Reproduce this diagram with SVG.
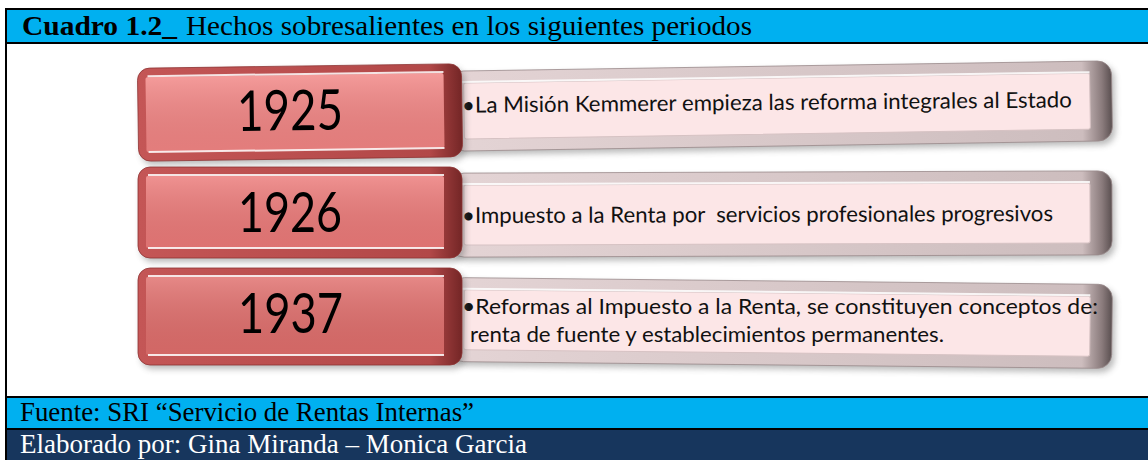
<svg xmlns="http://www.w3.org/2000/svg" width="1148" height="460" viewBox="0 0 1148 460">
<defs>
<filter id="blur" x="-10%" y="-30%" width="120%" height="160%"><feGaussianBlur stdDeviation="3"/></filter>
<linearGradient id="redEdge" x1="0" y1="0" x2="1" y2="0">
<stop offset="0" stop-color="#C45656"/><stop offset="0.9" stop-color="#B24848"/><stop offset="1" stop-color="#742626"/>
</linearGradient>
<linearGradient id="pinkEdge" x1="0" y1="0" x2="1" y2="0">
<stop offset="0" stop-color="#E4D4D5"/><stop offset="0.955" stop-color="#CDBDBE"/><stop offset="0.985" stop-color="#8A7B7C"/><stop offset="1" stop-color="#5A4F50"/>
</linearGradient>
<linearGradient id="gloss" x1="0" y1="0" x2="0" y2="1">
<stop offset="0" stop-color="#fff" stop-opacity="0.18"/><stop offset="1" stop-color="#000" stop-opacity="0.06"/>
</linearGradient>
</defs>
<style>
.shadow{fill:#666;opacity:.45;filter:url(#blur)}
.redOuter{fill:url(#redEdge);stroke:#8E3434;stroke-width:.8}
.pinkOuter{fill:url(#pinkEdge);stroke:#9A8A8B;stroke-width:.8}
.pinkFace{fill:#FCE6E7;stroke:#D6C2C3;stroke-width:1}
.hl{stroke:#fff;stroke-width:2;opacity:.85}
.year{font-family:Lato,"Noto Sans",sans-serif;font-size:56px;fill:#000}
.desc{font-family:Lato,"Noto Sans",sans-serif;font-size:22px;fill:#111}
.tnr{font-family:"Liberation Serif","Times New Roman",serif;font-size:27px}
</style>
<rect x="0" y="0" width="1148" height="460" fill="#fff"/>
<!-- frame / header / footer -->
<rect x="5" y="8" width="1143" height="2" fill="#000"/>
<rect x="7" y="10" width="1141" height="32" fill="#00B0F0"/>
<rect x="5" y="42" width="1143" height="2" fill="#000"/>
<rect x="5" y="8" width="2" height="452" fill="#000"/>
<rect x="5" y="396" width="1143" height="2" fill="#000"/>
<rect x="7" y="398" width="1141" height="30" fill="#00B0F0"/>
<rect x="5" y="428" width="1143" height="2" fill="#000"/>
<rect x="7" y="430" width="1141" height="30" fill="#17365D"/>
<text class="tnr" x="22" y="35" font-weight="bold" textLength="155" lengthAdjust="spacingAndGlyphs">Cuadro 1.2_</text>
<text class="tnr" x="186" y="35" textLength="566" lengthAdjust="spacingAndGlyphs">Hechos sobresalientes en los siguientes periodos</text>
<text class="tnr" x="20" y="421" fill="#000" textLength="454" lengthAdjust="spacingAndGlyphs">Fuente: SRI “Servicio de Rentas Internas”</text>
<text class="tnr" x="20" y="453" fill="#fff" textLength="507" lengthAdjust="spacingAndGlyphs">Elaborado por: Gina Miranda – Monica Garcia</text>

<g id="connectors"/>

<!-- Row 1 -->
<g id="node-1925-desc">
<g transform="rotate(-0.9 781 106)">
<rect class="shadow" x="453" y="70" width="662" height="80" rx="14"/>
<rect class="pinkOuter" x="450" y="66" width="662" height="80" rx="14"/>
<rect class="pinkFace" x="464" y="78" width="626" height="56" rx="2"/>
<line class="hl" x1="462" y1="77" x2="1090" y2="77"/>
</g>
<text class="desc" x="462" y="110" transform="rotate(-0.5 767 109)" textLength="610" lengthAdjust="spacingAndGlyphs">•La Misión Kemmerer empieza las reforma integrales al Estado</text>
</g>
<g id="node-1925" transform="rotate(-0.8 300 112)">
<rect class="shadow" x="141" y="70" width="324" height="93" rx="12"/>
<rect class="redOuter" x="138" y="66" width="324" height="93" rx="12"/>
<rect x="146" y="75" width="298" height="75" rx="2" fill="#F28584"/>
<rect x="146" y="75" width="298" height="75" rx="2" fill="url(#gloss)"/>
<line class="hl" x1="148" y1="74" x2="444" y2="74"/>
<line class="hl" x1="148" y1="150" x2="444" y2="150"/>
<text class="year" x="237" y="130" textLength="106" lengthAdjust="spacingAndGlyphs">1925</text>
</g>

<!-- Row 2 -->
<g id="node-1926-desc">
<g transform="rotate(-0.2 781 214)">
<rect class="shadow" x="453" y="176" width="662" height="84" rx="14"/>
<rect class="pinkOuter" x="450" y="172" width="662" height="84" rx="14"/>
<rect class="pinkFace" x="464" y="184" width="626" height="60" rx="2"/>
<line class="hl" x1="462" y1="183" x2="1090" y2="183"/>
<text class="desc" x="462" y="222" xml:space="preserve" textLength="591" lengthAdjust="spacingAndGlyphs">•Impuesto a la Renta por  servicios profesionales progresivos</text>
</g>
</g>
<g id="node-1926">
<rect class="shadow" x="141" y="171" width="324" height="91" rx="12"/>
<rect class="redOuter" x="138" y="167" width="324" height="91" rx="12"/>
<rect x="146" y="176" width="298" height="72" rx="2" fill="#EC7A79"/>
<rect x="146" y="176" width="298" height="72" rx="2" fill="url(#gloss)"/>
<line class="hl" x1="148" y1="175" x2="444" y2="175"/>
<line class="hl" x1="148" y1="248" x2="444" y2="248"/>
<text class="year" x="238" y="232" textLength="104" lengthAdjust="spacingAndGlyphs">1926</text>
</g>

<!-- Row 3 -->
<g id="node-1937-desc">
<g transform="rotate(0.6 781 324)">
<rect class="shadow" x="453" y="285" width="662" height="84" rx="14"/>
<rect class="pinkOuter" x="450" y="281" width="662" height="84" rx="14"/>
<rect class="pinkFace" x="464" y="293" width="626" height="60" rx="2"/>
<line class="hl" x1="462" y1="292" x2="1090" y2="292"/>
</g>
<text class="desc" x="462" y="314" font-size="21" textLength="636" lengthAdjust="spacingAndGlyphs">•Reformas al Impuesto a la Renta, se constituyen conceptos de:</text>
<text class="desc" x="470" y="342" font-size="21" textLength="474" lengthAdjust="spacingAndGlyphs">renta de fuente y establecimientos permanentes.</text>
</g>
<g id="node-1937">
<rect class="shadow" x="141" y="272" width="324" height="97" rx="12"/>
<rect class="redOuter" x="138" y="268" width="324" height="97" rx="12"/>
<rect x="146" y="277" width="298" height="78" rx="2" fill="#E06E6C"/>
<rect x="146" y="277" width="298" height="78" rx="2" fill="url(#gloss)"/>
<line class="hl" x1="148" y1="276" x2="444" y2="276"/>
<line class="hl" x1="148" y1="355" x2="444" y2="355"/>
<text class="year" x="238" y="333" textLength="105" lengthAdjust="spacingAndGlyphs">1937</text>
</g>
</svg>
